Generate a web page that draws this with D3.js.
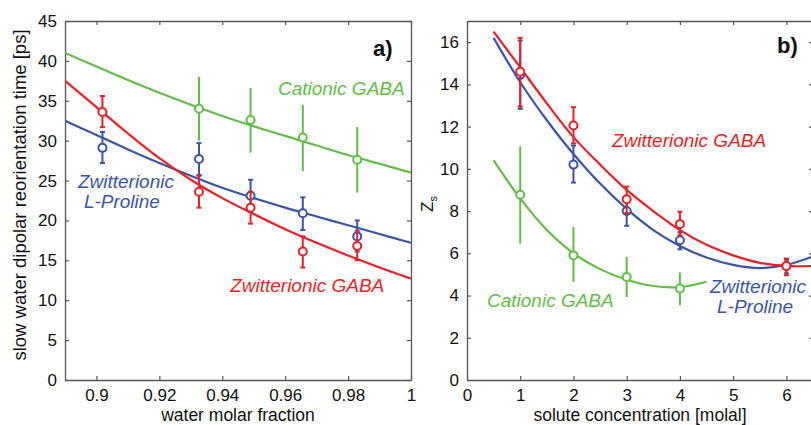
<!DOCTYPE html>
<html lang="en">
  <head>
    <meta charset="UTF-8" />
    <title>Slow water reorientation – GABA vs L-Proline</title>
    <script src="https://d3js.org/d3.v7.min.js"></script>
    <style>
      body {
        margin: 0;
        background: white;
        font-family: 'Liberation Sans', Arial, Helvetica, sans-serif;
      }

      svg {
        display: block;
      }

      .tick text {
        font-size: 17px;
        fill: #111;
      }
    </style>
  </head>
  <body>
    <svg width="811" height="425"></svg>

    <script>
      const green = '#62bd47';
      const red = '#ec1f27';
      const blue = '#3b55a6';

      // ---- panel a) : reorientation time vs water molar fraction ----
      const fracX = [0.9019, 0.9326, 0.949, 0.9656, 0.9829];
      const zwGabaA = [33.6, 23.6, 21.6, 16.1, 16.8];
      const zwGabaALo = [31.7, 21.6, 19.6, 14.1, 15.0];
      const zwGabaAHi = [35.6, 25.6, 23.6, 18.0, 18.7];
      const prolineA = [29.1, 27.7, 23.1, 20.9, 18.0];
      const prolineALo = [27.2, 25.7, 21.1, 18.8, 16.1];
      const prolineAHi = [31.1, 29.7, 25.1, 22.9, 20.0];
      const catGabaAX = [0.9326, 0.949, 0.9656, 0.9829];
      const catGabaA = [34.0, 32.6, 30.4, 27.6];
      const catGabaALo = [30.0, 28.5, 26.2, 23.5];
      const catGabaAHi = [38.0, 36.6, 34.5, 31.7];

      // fitted curves
      const fitXA = [0.89, 0.9, 0.91, 0.92, 0.93, 0.94, 0.95, 0.96, 0.97, 0.98, 0.99, 1.0];
      const fitZwGabaA = [37.5, 34.2, 30.9, 27.8, 25.1, 22.8, 20.8, 18.9, 17.2, 15.6, 14.1, 12.7];
      const fitProlineA = [32.5, 30.7, 28.9, 27.2, 25.6, 24.1, 22.8, 21.6, 20.5, 19.4, 18.3, 17.2];
      const fitCatGabaA = [41.0, 39.3, 37.6, 36.0, 34.5, 33.1, 31.8, 30.6, 29.4, 28.2, 27.1, 26.0];

      const xTicksA = [0.9, 0.92, 0.94, 0.96, 0.98, 1];
      const yTicksA = [0, 5, 10, 15, 20, 25, 30, 35, 40, 45];

      // ---- panel b) : Z_s vs solute concentration ----
      const concX = [1, 2, 3, 4, 6];
      const zwGabaB = [14.6, 12.05, 8.56, 7.38, 5.4];
      const zwGabaBLo = [12.95, 11.2, 7.9, 6.85, 4.96];
      const zwGabaBHi = [16.2, 12.92, 9.16, 7.97, 5.75];
      const prolineB = [14.45, 10.2, 8.0, 6.62, 5.4];
      const prolineBLo = [12.84, 9.35, 7.3, 6.19, 5.05];
      const prolineBHi = [16.07, 11.1, 8.6, 7.0, 5.7];
      const catGabaBX = [1, 2, 3, 4];
      const catGabaB = [8.77, 5.9, 4.88, 4.33];
      const catGabaBLo = [6.46, 4.64, 3.93, 3.54];
      const catGabaBHi = [11.06, 7.25, 5.83, 5.09];

      const fitXB = [0.5, 1, 1.5, 2, 2.5, 3, 3.5, 4, 4.5, 5, 5.5, 6, 6.5];
      const fitZwGabaB = [16.5, 14.8, 13.1, 11.5, 10.2, 9.0, 8.0, 7.1, 6.4, 5.9, 5.55, 5.4, 5.4];
      const fitProlineB = [16.2, 14.1, 12.3, 10.7, 9.3, 8.1, 7.1, 6.35, 5.8, 5.45, 5.3, 5.45, 5.85];
      const fitXBCat = [0.5, 1, 1.5, 2, 2.5, 3, 3.5, 4, 4.5];
      const fitCatGabaB = [10.4, 8.6, 7.1, 6.0, 5.25, 4.75, 4.45, 4.4, 4.65];

      const xTicksB = [0, 1, 2, 3, 4, 5, 6];
      const yTicksB = [0, 2, 4, 6, 8, 10, 12, 14, 16];

      const svg = d3.select('svg');

      function drawPanel(p) {
        const g = svg.append('g');
        const x = d3.scaleLinear().domain(p.xDomain).range(p.xRange);
        const y = d3.scaleLinear().domain(p.yDomain).range([380, 21]);

        const clipId = 'clip-' + p.name;
        svg
          .append('clipPath')
          .attr('id', clipId)
          .append('rect')
          .attr('x', p.xRange[0])
          .attr('y', 21)
          .attr('width', p.xRange[1] - p.xRange[0])
          .attr('height', 359);

        // axes, ticks pointing inward on all four sides
        const fmt = p.fmt;
        const axes = [
          [d3.axisBottom(x).tickValues(p.xTicks).tickFormat(fmt), `translate(0,380)`, 9],
          [d3.axisTop(x).tickValues(p.xTicks).tickFormat(''), `translate(0,21)`, 8],
          [d3.axisLeft(y).tickValues(p.yTicks), `translate(${p.xRange[0]},0)`, 8],
          [d3.axisRight(y).tickValues(p.yTicks).tickFormat(''), `translate(${p.xRange[1]},0)`, 8],
        ];
        axes.forEach(([ax, tr, pad]) => {
          const a = g
            .append('g')
            .attr('transform', tr)
            .call(ax.tickSizeInner(-4).tickSizeOuter(0).tickPadding(pad));
          a.selectAll('path.domain').attr('stroke', '#555').attr('stroke-width', 1.3);
          a.selectAll('.tick line').attr('stroke', '#555').attr('stroke-width', 1.2);
          a.selectAll('.tick text').attr('font-family', null).attr('font-size', null);
        });

        const line = d3
          .line()
          .x((d) => x(d[0]))
          .y((d) => y(d[1]))
          .curve(d3.curveCatmullRom);

        const plot = g.append('g').attr('clip-path', `url(#${clipId})`);

        p.series.forEach((s) => {
          plot
            .append('path')
            .datum(d3.zip(s.fitX, s.fitY))
            .attr('fill', 'none')
            .attr('stroke', s.color)
            .attr('stroke-width', 2.2)
            .attr('d', line);
        });

        p.series.forEach((s) => {
          const pts = s.x.map((v, i) => ({ x: v, y: s.y[i], lo: s.lo[i], hi: s.hi[i] }));
          const eg = plot.append('g').attr('stroke', s.color).attr('stroke-width', 2);
          eg.selectAll('line.bar')
            .data(pts)
            .join('line')
            .attr('x1', (d) => x(d.x))
            .attr('x2', (d) => x(d.x))
            .attr('y1', (d) => y(d.lo))
            .attr('y2', (d) => y(d.hi));
          if (s.cap) {
            ['lo', 'hi'].forEach((k) => {
              eg.selectAll('line.cap-' + k)
                .data(pts)
                .join('line')
                .attr('x1', (d) => x(d.x) - s.cap)
                .attr('x2', (d) => x(d.x) + s.cap)
                .attr('y1', (d) => y(d[k]))
                .attr('y2', (d) => y(d[k]));
            });
          }
          eg.selectAll('circle')
            .data(pts)
            .join('circle')
            .attr('cx', (d) => x(d.x))
            .attr('cy', (d) => y(d.y))
            .attr('r', 4)
            .attr('fill', 'white');
        });

        // series labels
        p.labels.forEach((l) => {
          const t = g
            .append('text')
            .attr('x', x(l.x))
            .attr('y', y(l.y))
            .attr('fill', l.color)
            .attr('font-size', 19)
            .attr('font-style', 'italic');
          l.lines.forEach((txt, i) => {
            t.append('tspan')
              .attr('x', x(l.x) + (l.dx ? l.dx[i] : 0))
              .attr('dy', i === 0 ? 0 : 20)
              .text(txt);
          });
        });

        g.append('text')
          .attr('x', p.tag[1])
          .attr('y', p.tag[2])
          .attr('font-size', 22)
          .attr('font-weight', 'bold')
          .attr('fill', '#111')
          .text(p.tag[0]);

        g.append('text')
          .attr('x', (p.xRange[0] + p.xRange[1]) / 2)
          .attr('y', 421)
          .attr('text-anchor', 'middle')
          .attr('font-size', 17.5)
          .attr('fill', '#111')
          .text(p.xLabel);

        return { g, x, y };
      }

      drawPanel({
        name: 'a',
        xDomain: [0.89, 1],
        xRange: [65, 411],
        yDomain: [0, 45],
        xTicks: xTicksA,
        yTicks: yTicksA,
        fmt: (d) => (d === 1 ? '1' : d3.format('.2~f')(d)),
        xLabel: 'water molar fraction',
        tag: ['a)', 373, 56],
        series: [
          { x: catGabaAX, y: catGabaA, lo: catGabaALo, hi: catGabaAHi, fitX: fitXA, fitY: fitCatGabaA, color: green, cap: 0 },
          { x: fracX, y: prolineA, lo: prolineALo, hi: prolineAHi, fitX: fitXA, fitY: fitProlineA, color: blue, cap: 2.5 },
          { x: fracX, y: zwGabaA, lo: zwGabaALo, hi: zwGabaAHi, fitX: fitXA, fitY: fitZwGabaA, color: red, cap: 2.5 },
        ],
        labels: [
          { x: 0.9577, y: 35.7, color: green, lines: ['Cationic GABA'] },
          { x: 0.8941, y: 24.07, color: blue, lines: ['Zwitterionic', 'L-Proline'], dx: [0, 6] },
          { x: 0.9425, y: 11.03, color: red, lines: ['Zwitterionic GABA'] },
        ],
      });

      drawPanel({
        name: 'b',
        xDomain: [0, 6.5],
        xRange: [467, 813],
        yDomain: [0, 17],
        xTicks: xTicksB,
        yTicks: yTicksB,
        fmt: d3.format('d'),
        xLabel: 'solute concentration [molal]',
        tag: ['b)', 777, 53],
        series: [
          { x: catGabaBX, y: catGabaB, lo: catGabaBLo, hi: catGabaBHi, fitX: fitXBCat, fitY: fitCatGabaB, color: green, cap: 0 },
          { x: concX, y: prolineB, lo: prolineBLo, hi: prolineBHi, fitX: fitXB, fitY: fitProlineB, color: blue, cap: 2.5 },
          { x: concX, y: zwGabaB, lo: zwGabaBLo, hi: zwGabaBHi, fitX: fitXB, fitY: fitZwGabaB, color: red, cap: 2.5 },
        ],
        labels: [
          { x: 2.724, y: 11.03, color: red, lines: ['Zwitterionic GABA'] },
          { x: 0.376, y: 3.46, color: green, lines: ['Cationic GABA'] },
          { x: 4.565, y: 4.12, color: blue, lines: ['Zwitterionic', 'L-Proline'], dx: [0, 7] },
        ],
      });

      // y axis titles
      svg
        .append('text')
        .attr('transform', 'translate(26,195) rotate(-90)')
        .attr('text-anchor', 'middle')
        .attr('font-size', 18.5)
        .attr('fill', '#111')
        .text('slow water dipolar reorientation time [ps]');

      const zs = svg
        .append('text')
        .attr('transform', 'translate(433,212) rotate(-90)')
        .attr('font-size', 17)
        .attr('fill', '#111');
      zs.append('tspan').text('Z');
      zs.append('tspan').attr('dy', 4).attr('font-size', 11).text('s');
    </script>
  </body>
</html>
